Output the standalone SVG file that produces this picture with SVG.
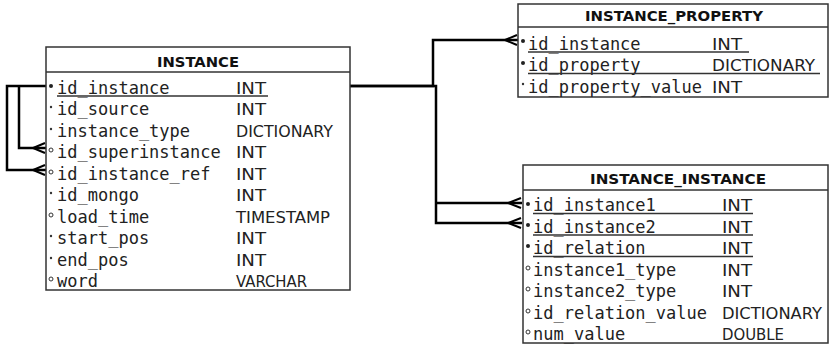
<svg xmlns="http://www.w3.org/2000/svg" width="830" height="345" viewBox="0 0 830 345">
<style>
.box{fill:#fff;stroke:#333;stroke-width:1.5}
.sep{stroke:#333;stroke-width:1.5}
.hdr{font-family:"DejaVu Sans",sans-serif;font-weight:bold;font-size:14px;fill:#111;text-anchor:middle}
.nm{font-family:"DejaVu Sans Mono","Liberation Mono",monospace;font-size:17px;fill:#222}
.ty{font-family:"DejaVu Sans",sans-serif;font-size:16px;fill:#222}
.ul{stroke:#333;stroke-width:1.3}
.pk{fill:#222}
.mk{fill:#333}
.op{fill:#fff;stroke:#333;stroke-width:1}
.cn{fill:none;stroke:#000;stroke-width:2.5}
.cf{fill:none;stroke:#000;stroke-width:2}
</style>
<g id="connectors">
<polyline class="cn" points="46,86 7,86 7,170 46,170"/>
<polyline class="cn" points="19,86 19,148 46,148"/>
<polyline class="cf" points="45,143 33,148 45,153"/>
<polyline class="cf" points="45,165 33,170 45,175"/>
<polyline class="cn" points="350,86 433,86 433,40 518,40"/>
<polyline class="cf" points="517,35 505,40 517,45"/>
<polyline class="cn" points="350,86 436,86 436,223 522,223"/>
<polyline class="cn" points="436,203 522,203"/>
<polyline class="cf" points="521,198 508,203 521,208"/>
<polyline class="cf" points="521,218 508,223 521,228"/>
</g>
<g id="instance">
<rect class="box" x="46" y="47" width="304" height="243"/>
<line class="sep" x1="46" y1="72" x2="350" y2="72"/>
<text class="hdr" x="198" y="67" textLength="82" lengthAdjust="spacingAndGlyphs">INSTANCE</text>
<circle class="pk" cx="51" cy="86" r="2"/>
<circle class="mk" cx="51" cy="107" r="1.2"/>
<circle class="mk" cx="51" cy="129" r="1.2"/>
<circle class="op" cx="51" cy="150" r="2"/>
<circle class="op" cx="51" cy="172" r="2"/>
<circle class="mk" cx="51" cy="193" r="1.2"/>
<circle class="op" cx="51" cy="215" r="2"/>
<circle class="mk" cx="51" cy="236" r="1.2"/>
<circle class="mk" cx="51" cy="258" r="1.2"/>
<circle class="op" cx="51" cy="279" r="2"/>
<text class="nm" x="57" y="93.5">id_instance</text>
<text class="nm" x="57" y="115">id_source</text>
<text class="nm" x="57" y="136.5">instance_type</text>
<text class="nm" x="57" y="158">id_superinstance</text>
<text class="nm" x="57" y="179.5">id_instance_ref</text>
<text class="nm" x="57" y="201">id_mongo</text>
<text class="nm" x="57" y="222.5">load_time</text>
<text class="nm" x="57" y="244">start_pos</text>
<text class="nm" x="57" y="265.5">end_pos</text>
<text class="nm" x="57" y="287">word</text>
<text class="ty" x="236" y="93.5" textLength="30" lengthAdjust="spacingAndGlyphs">INT</text>
<text class="ty" x="236" y="115" textLength="30" lengthAdjust="spacingAndGlyphs">INT</text>
<text class="ty" x="236" y="136.5" textLength="97" lengthAdjust="spacingAndGlyphs">DICTIONARY</text>
<text class="ty" x="236" y="158" textLength="30" lengthAdjust="spacingAndGlyphs">INT</text>
<text class="ty" x="236" y="179.5" textLength="30" lengthAdjust="spacingAndGlyphs">INT</text>
<text class="ty" x="236" y="201" textLength="30" lengthAdjust="spacingAndGlyphs">INT</text>
<text class="ty" x="236" y="222.5" textLength="94" lengthAdjust="spacingAndGlyphs">TIMESTAMP</text>
<text class="ty" x="236" y="244" textLength="30" lengthAdjust="spacingAndGlyphs">INT</text>
<text class="ty" x="236" y="265.5" textLength="30" lengthAdjust="spacingAndGlyphs">INT</text>
<text class="ty" x="236" y="287" textLength="71" lengthAdjust="spacingAndGlyphs">VARCHAR</text>
<line class="ul" x1="57" y1="96" x2="268" y2="96"/>
</g>
<g id="instance_property">
<rect class="box" x="518" y="4" width="310" height="93"/>
<line class="sep" x1="518" y1="27" x2="828" y2="27"/>
<text class="hdr" x="674" y="21" textLength="178" lengthAdjust="spacingAndGlyphs">INSTANCE_PROPERTY</text>
<circle class="pk" cx="523" cy="41" r="2"/>
<circle class="pk" cx="523" cy="63" r="2"/>
<circle class="mk" cx="523" cy="84" r="1.2"/>
<text class="nm" x="528" y="49.5">id_instance</text>
<text class="nm" x="528" y="71">id_property</text>
<text class="nm" x="528" y="92.5">id_property_value</text>
<text class="ty" x="712" y="49.5" textLength="30" lengthAdjust="spacingAndGlyphs">INT</text>
<text class="ty" x="712" y="71" textLength="103" lengthAdjust="spacingAndGlyphs">DICTIONARY</text>
<text class="ty" x="712" y="92.5" textLength="30" lengthAdjust="spacingAndGlyphs">INT</text>
<line class="ul" x1="528" y1="52" x2="749" y2="52"/>
<line class="ul" x1="528" y1="73.5" x2="820" y2="73.5"/>
</g>
<g id="instance_instance">
<rect class="box" x="523" y="165" width="305" height="178"/>
<line class="sep" x1="523" y1="190" x2="828" y2="190"/>
<text class="hdr" x="678" y="184" textLength="176" lengthAdjust="spacingAndGlyphs">INSTANCE_INSTANCE</text>
<circle class="pk" cx="528" cy="204" r="2"/>
<circle class="pk" cx="528" cy="225" r="2"/>
<circle class="pk" cx="528" cy="246" r="2"/>
<circle class="op" cx="528" cy="268" r="2"/>
<circle class="op" cx="528" cy="289" r="2"/>
<circle class="op" cx="528" cy="311" r="2"/>
<circle class="op" cx="528" cy="332" r="2"/>
<text class="nm" x="533" y="211">id_instance1</text>
<text class="nm" x="533" y="232.5">id_instance2</text>
<text class="nm" x="533" y="254">id_relation</text>
<text class="nm" x="533" y="275.5">instance1_type</text>
<text class="nm" x="533" y="297">instance2_type</text>
<text class="nm" x="533" y="318.5">id_relation_value</text>
<text class="nm" x="533" y="340">num_value</text>
<text class="ty" x="722" y="211" textLength="30" lengthAdjust="spacingAndGlyphs">INT</text>
<text class="ty" x="722" y="232.5" textLength="30" lengthAdjust="spacingAndGlyphs">INT</text>
<text class="ty" x="722" y="254" textLength="30" lengthAdjust="spacingAndGlyphs">INT</text>
<text class="ty" x="722" y="275.5" textLength="30" lengthAdjust="spacingAndGlyphs">INT</text>
<text class="ty" x="722" y="297" textLength="30" lengthAdjust="spacingAndGlyphs">INT</text>
<text class="ty" x="722" y="318.5" textLength="100" lengthAdjust="spacingAndGlyphs">DICTIONARY</text>
<text class="ty" x="722" y="340" textLength="62" lengthAdjust="spacingAndGlyphs">DOUBLE</text>
<line class="ul" x1="533" y1="213.5" x2="753" y2="213.5"/>
<line class="ul" x1="533" y1="235" x2="753" y2="235"/>
<line class="ul" x1="533" y1="256.5" x2="753" y2="256.5"/>
</g>
</svg>
